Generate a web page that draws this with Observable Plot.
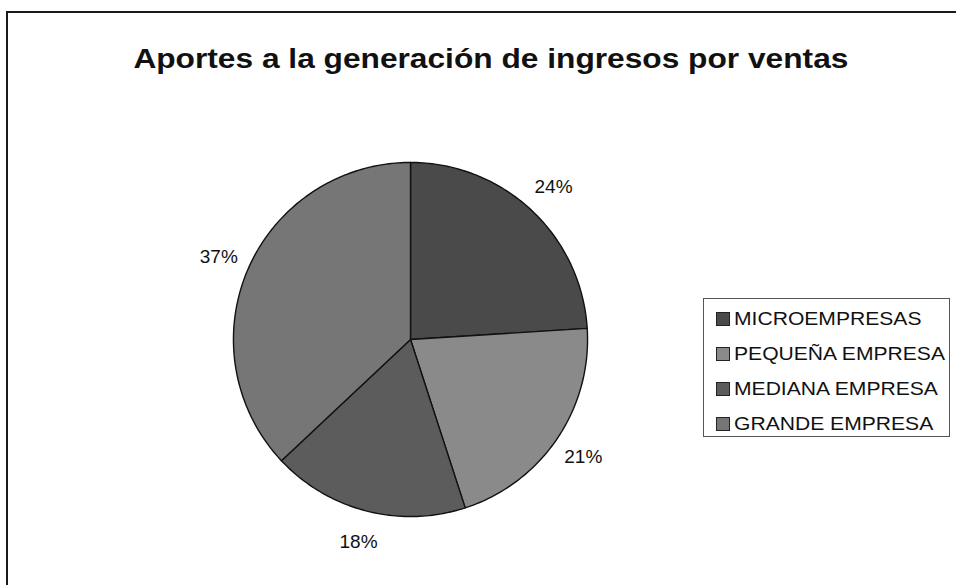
<!DOCTYPE html>
<html>
<head>
<meta charset="utf-8">
<script src="https://cdn.jsdelivr.net/npm/d3@7"></script>
<script src="https://cdn.jsdelivr.net/npm/@observablehq/plot@0.6"></script>
<style>
  body { margin: 0; background: #fff; }
  #wrap { position: relative; width: 956px; height: 585px; overflow: hidden; background: #fff; font-family: "Liberation Sans", Arial, sans-serif; }
  #frame { position: absolute; left: 6px; top: 11px; width: 1000px; height: 700px; border: 2px solid #1a1a1a; box-sizing: border-box; }
  #title { position: absolute; left: 0; top: 43px; width: 981px; text-align: center; font-weight: bold; font-size: 28px; line-height: 32px; color: #111; }
  #title span { display: inline-block; transform-origin: center; }
  #chart { position: absolute; left: 160px; top: 89px; }
  #legend { position: absolute; left: 703px; top: 298px; width: 247px; height: 139px; border: 1px solid #555; box-sizing: border-box; padding: 2px 0 0 12px; }
  .row { display: flex; align-items: center; height: 35px; font-size: 19px; color: #111; white-space: nowrap; }
  .row .t { display: inline-block; transform: scaleX(1.11); transform-origin: left center; }
  .sw { width: 14px; height: 14px; border: 1px solid #222; box-sizing: border-box; margin-right: 4px; flex: none; }
</style>
</head>
<body>
<div id="wrap">
  <div id="frame"></div>
  <div id="title"><span></span></div>
  <div id="chart"></div>
  <div id="legend"></div>
</div>
<script>
const titleText = "Aportes a la generación de ingresos por ventas";
const categories = ["MICROEMPRESAS", "PEQUEÑA EMPRESA", "MEDIANA EMPRESA", "GRANDE EMPRESA"];
const shares = [24, 21, 18, 37];
const colors = ["#4a4a4a", "#8a8a8a", "#5c5c5c", "#767676"];

const titleSpan = document.querySelector("#title span");
titleSpan.textContent = titleText;
titleSpan.style.transform = `scaleX(${715 / titleSpan.getBoundingClientRect().width})`;

const total = d3.sum(shares);
const pie = d3.pie().sort(null).value(d => d)(shares);

// slice outlines in unit-circle space (angle 0 at 12 o'clock, clockwise)
const pts = [];
pie.forEach((p, i) => {
  const name = categories[i];
  pts.push({name, x: 0, y: 0});
  const n = Math.max(2, Math.ceil((p.endAngle - p.startAngle) / (Math.PI / 180)));
  for (let k = 0; k <= n; k++) {
    const a = p.startAngle + (p.endAngle - p.startAngle) * k / n;
    pts.push({name, x: Math.sin(a), y: Math.cos(a)});
  }
});

const labelR = 1.18;
const labels = pie.map((p, i) => {
  const a = (p.startAngle + p.endAngle) / 2;
  return {x: labelR * Math.sin(a), y: labelR * Math.cos(a), text: Math.round(shares[i] / total * 100) + "%"};
});

const ext = 1.412;
const chart = Plot.plot({
  width: 500,
  height: 500,
  margin: 0,
  x: {domain: [-ext, ext], axis: null},
  y: {domain: [-ext, ext], axis: null},
  color: {domain: categories, range: colors},
  style: {fontFamily: "'Liberation Sans', Arial, sans-serif", background: "transparent"},
  marks: [
    Plot.line(pts, {x: "x", y: "y", z: "name", fill: "name", stroke: "#111", strokeWidth: 1.4, curve: "linear-closed"}),
    Plot.text(labels, {x: "x", y: "y", text: "text", fontSize: 19, fill: "#111"})
  ]
});
document.getElementById("chart").appendChild(chart);

const legend = document.getElementById("legend");
categories.forEach((c, i) => {
  const row = document.createElement("div");
  row.className = "row";
  const sw = document.createElement("span");
  sw.className = "sw";
  sw.style.background = colors[i];
  const t = document.createElement("span");
  t.className = "t";
  t.textContent = c;
  row.appendChild(sw);
  row.appendChild(t);
  legend.appendChild(row);
});
</script>
</body>
</html>
